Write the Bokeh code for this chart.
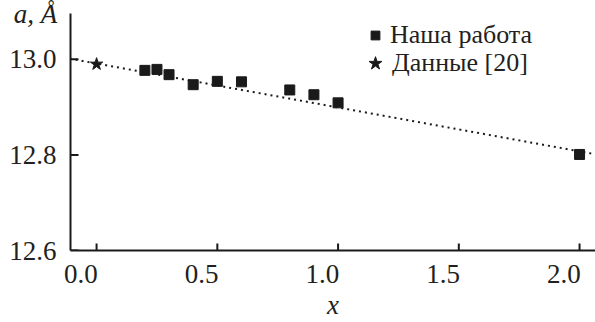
from bokeh.plotting import figure
from bokeh.models import Range1d, LinearAxis, FixedTicker, Legend, LegendItem
from bokeh.embed import file_html
from bokeh.resources import INLINE

# ---- data ----
x_ours = [0.2, 0.25, 0.3, 0.4, 0.5, 0.6, 0.8, 0.9, 1.0, 2.0]
a_ours = [12.977, 12.979, 12.968, 12.947, 12.954, 12.953, 12.936, 12.926, 12.909, 12.801]
x_ref = [0.0]
a_ref = [12.990]
fit_x = [-0.16, 2.07]
fit_a = [13.006, 12.801]
x_ticks = [0.0, 0.5, 1.0, 1.5, 2.0]
x_tick_labels = ["0.0", "0.5", "1.0", "1.5", "2.0"]
y_ticks = [12.6, 12.8, 13.0]
y_tick_labels = ["12.6", "12.8", "13.0"]
legend_labels = ["Наша работа", "Данные [20]"]
x_title = "x"
y_title = "a, Å"

FONT = "Liberation Serif"
TXT = "#231f20"
INK = "#1a1a1a"
LABEL_SHIFT = 0.065  # tick labels in the original sit left of their ticks
X0, X1 = -0.108, 2.066
Y0, Y1 = 12.6, 13.096

p = figure(width=595, height=322,
           x_range=Range1d(X0, X1), y_range=Range1d(Y0, Y1),
           output_backend="svg", toolbar_location=None,
           x_axis_location=None, y_axis_location=None,
           min_border_left=70, min_border_right=0, min_border_top=13, min_border_bottom=70)
p.outline_line_color = None
p.xgrid.visible = False
p.ygrid.visible = False
p.background_fill_color = None
p.border_fill_color = None

# y axis (title placed horizontally at the top end)
yax = LinearAxis(ticker=FixedTicker(ticks=y_ticks),
                 major_label_overrides={t: l for t, l in zip(y_ticks, y_tick_labels)},
                 axis_line_width=2, axis_line_color=INK,
                 major_tick_line_color=None, minor_tick_line_color=None,
                 major_tick_in=0, major_tick_out=0, major_label_standoff=14,
                 major_label_text_font=FONT, major_label_text_font_size="27px",
                 major_label_text_color=TXT,
                 axis_label=y_title, axis_label_orientation="horizontal",
                 axis_label_standoff=-51,
                 axis_label_text_font=FONT, axis_label_text_font_style="italic",
                 axis_label_text_font_size="27px", axis_label_text_color=TXT)
try:
    yax.axis_label_align = "end"
except Exception:
    pass
p.add_layout(yax, "left")

# x axis: line + shifted labels + title
lab_pos = [t - LABEL_SHIFT for t in x_ticks]
xax = LinearAxis(ticker=FixedTicker(ticks=lab_pos),
                 major_label_overrides={t: l for t, l in zip(lab_pos, x_tick_labels)},
                 axis_line_width=2, axis_line_color=INK,
                 major_tick_line_color=None, minor_tick_line_color=None,
                 major_tick_in=0, major_tick_out=0, major_label_standoff=14,
                 major_label_text_font=FONT, major_label_text_font_size="27px",
                 major_label_text_color=TXT,
                 axis_label=x_title, axis_label_standoff=4,
                 axis_label_text_font=FONT, axis_label_text_font_style="italic",
                 axis_label_text_font_size="27px", axis_label_text_color=TXT)
p.add_layout(xax, "below")

# marks
p.line(fit_x, fit_a, line_dash="2 4", line_width=2, color=INK)
r_sq = p.scatter(x_ours, a_ours, marker="square", size=10, color=INK)
r_st = p.scatter(x_ref, a_ref, marker="star", size=13, color=INK)
# inward tick marks (half of each dash falls outside the frame and is clipped)
p.scatter(x_ticks, [Y0] * len(x_ticks), marker="dash", angle=1.5708, size=14,
          line_color=INK, line_width=2)
p.scatter([X0] * len(y_ticks), y_ticks, marker="dash", size=16,
          line_color=INK, line_width=2)

common = dict(padding=0, margin=0, border_line_color=None, background_fill_alpha=0,
              label_text_font=FONT, label_text_font_size="26px", label_text_color=TXT,
              spacing=0)
leg1 = Legend(items=[LegendItem(label=legend_labels[0], renderers=[r_sq])],
              location=(294, 200), glyph_width=22, glyph_height=30, label_height=30,
              label_standoff=4, **common)
leg2 = Legend(items=[LegendItem(label=legend_labels[1], renderers=[r_st])],
              location=(288, 169), glyph_width=34, glyph_height=36, label_height=36,
              label_standoff=-2, **common)
p.add_layout(leg1)
p.add_layout(leg2)

open("out.html", "w").write(file_html(p, INLINE))
